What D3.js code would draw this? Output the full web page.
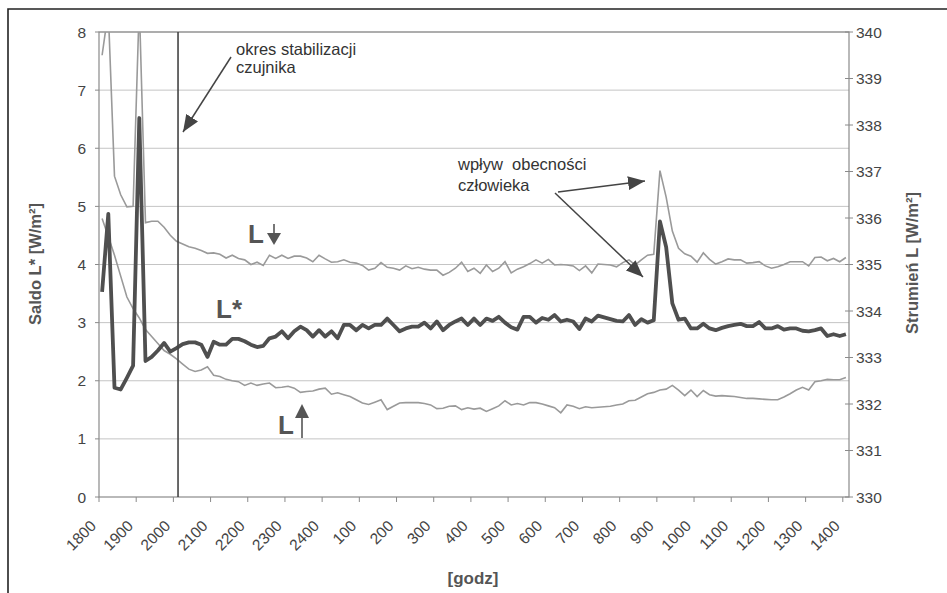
<!DOCTYPE html>
<html>
<head>
<meta charset="utf-8">
<script src="https://cdn.jsdelivr.net/npm/d3@7"></script>
<style>
body { margin: 0; background: #fff; }
svg text { font-family: Arial, "Liberation Sans", sans-serif; }
</style>
</head>
<body>
<svg width="947" height="593"></svg>
<script>
// godziny na osi X (co 6 pomiarow = 1h, pomiar co 10 min)
var hours = ["1800","1900","2000","2100","2200","2300","2400","100","200","300","400",
             "500","600","700","800","900","1000","1100","1200","1300","1400"];

// saldo L* [W/m2] - lewa os
var lStar = [3.53,4.87,1.88,1.85,2.05,2.26,6.52,2.34,2.41,2.52,
  2.65,2.5,2.56,2.63,2.66,2.66,2.62,2.41,2.67,2.62,
  2.62,2.72,2.72,2.68,2.62,2.58,2.6,2.73,2.76,2.85,
  2.73,2.85,2.93,2.87,2.76,2.87,2.76,2.85,2.73,2.96,
  2.96,2.87,2.96,2.9,2.96,2.96,3.07,2.96,2.85,2.9,
  2.93,2.93,3.0,2.9,3.02,2.87,2.96,3.02,3.07,2.96,
  3.07,2.96,3.07,3.03,3.1,3.0,2.92,2.88,3.1,3.1,
  3.0,3.08,3.05,3.13,3.02,3.05,3.02,2.89,3.07,3.02,
  3.12,3.09,3.06,3.03,3.02,3.13,2.96,3.06,3.0,3.04,
  4.74,4.3,3.33,3.05,3.07,2.9,2.9,2.98,2.9,2.87,
  2.91,2.94,2.96,2.98,2.94,2.94,3.01,2.9,2.9,2.94,
  2.88,2.9,2.9,2.86,2.85,2.87,2.9,2.77,2.8,2.77,
  2.8];

// strumien L w dol [W/m2] - prawa os
var lDown = [339.5,340.45,336.9,336.5,336.24,336.25,340.6,335.9,335.93,335.93,
  335.8,335.63,335.5,335.44,335.38,335.35,335.3,335.24,335.25,335.22,
  335.14,335.2,335.13,335.1,335.0,335.05,334.98,335.2,335.13,335.2,
  335.13,335.18,335.18,335.14,335.06,335.2,335.12,335.05,335.06,335.1,
  335.05,335.03,334.98,334.88,334.92,335.04,334.94,334.92,334.88,334.97,
  334.91,334.94,334.9,334.88,334.88,334.77,334.83,334.92,335.05,334.85,
  334.92,334.81,334.99,334.85,334.92,335.06,334.82,334.9,334.95,335.02,
  335.1,335.03,335.11,334.99,335.0,334.99,334.97,334.87,334.97,334.82,
  335.01,335.0,334.99,334.95,335.04,335.1,334.99,335.1,335.2,335.22,
  337.02,336.45,335.72,335.35,335.23,335.18,335.05,335.25,335.11,335.01,
  335.06,335.12,335.1,335.1,335.03,335.04,335.06,334.97,334.92,334.95,
  335.0,335.06,335.06,335.06,334.97,335.15,335.16,335.08,335.13,335.06,
  335.15];

// strumien L w gore [W/m2] - prawa os
var lUp = [335.99,335.6,335.2,334.75,334.3,334.05,333.85,333.6,333.45,333.3,
  333.15,333.07,332.97,332.86,332.75,332.7,332.73,332.8,332.62,332.59,
  332.53,332.5,332.48,332.4,332.45,332.4,332.43,332.45,332.35,332.36,
  332.38,332.34,332.25,332.27,332.28,332.32,332.34,332.21,332.24,332.2,
  332.16,332.09,332.02,331.99,332.04,332.09,331.88,331.95,332.02,332.03,
  332.03,332.03,332.01,331.98,331.9,331.91,331.95,331.96,331.88,331.92,
  331.89,331.91,331.84,331.9,331.96,332.07,331.98,332.01,331.98,332.03,
  332.03,332.0,331.96,331.92,331.81,331.98,331.95,331.9,331.94,331.92,
  331.93,331.94,331.95,331.98,332.0,332.07,332.08,332.15,332.22,332.25,
  332.3,332.32,332.4,332.3,332.18,332.3,332.16,332.29,332.2,332.17,
  332.18,332.17,332.16,332.14,332.12,332.12,332.11,332.1,332.09,332.09,
  332.15,332.22,332.3,332.36,332.3,332.48,332.5,332.53,332.52,332.52,
  332.57];

var leftTicks = [0,1,2,3,4,5,6,7,8];
var rightTicks = [330,331,332,333,334,335,336,337,338,339,340];

var svg = d3.select("svg");
var pL = 99, pR = 849, pT = 32, pB = 497;
var textCol = "#444", titleCol = "#555";

var x = d3.scaleLinear().domain([0, lStar.length]).range([pL, pR]);
var yL = d3.scaleLinear().domain([0, 8]).range([pB, pT]);
var yR = d3.scaleLinear().domain([330, 340]).range([pB, pT]);

// ramka zewnetrzna
svg.append("path").attr("d", "M8,593 L8,9 L947,9")
  .attr("fill", "none").attr("stroke", "#222").attr("stroke-width", 1.6);

var defs = svg.append("defs");
defs.append("clipPath").attr("id", "clip")
  .append("rect").attr("x", pL).attr("y", pT).attr("width", pR - pL).attr("height", pB - pT);
defs.append("marker").attr("id", "arr").attr("markerUnits", "userSpaceOnUse")
  .attr("markerWidth", 18).attr("markerHeight", 14).attr("refX", 17).attr("refY", 7)
  .attr("orient", "auto")
  .append("path").attr("d", "M0,0 L17,7 L0,14 z").attr("fill", "#444");

// siatka
svg.append("g").selectAll("line").data(leftTicks.slice(1)).enter().append("line")
  .attr("x1", pL).attr("x2", pR)
  .attr("y1", function(d) { return yL(d); }).attr("y2", function(d) { return yL(d); })
  .attr("stroke", "#c4c4c4").attr("stroke-width", 1);

svg.append("rect").attr("x", pL).attr("y", pT).attr("width", pR - pL).attr("height", pB - pT)
  .attr("fill", "none").attr("stroke", "#8a8a8a").attr("stroke-width", 1.2);

// lewa os
var gl = svg.append("g");
gl.selectAll("text").data(leftTicks).enter().append("text")
  .attr("x", 86).attr("y", function(d) { return yL(d); }).attr("dy", "0.36em")
  .attr("text-anchor", "end").attr("font-size", 15.5).attr("fill", textCol)
  .text(function(d) { return d; });
gl.selectAll("line").data(leftTicks).enter().append("line")
  .attr("x1", pL - 4).attr("x2", pL)
  .attr("y1", function(d) { return yL(d); }).attr("y2", function(d) { return yL(d); })
  .attr("stroke", "#8a8a8a");

// prawa os
var gr = svg.append("g");
gr.selectAll("text").data(rightTicks).enter().append("text")
  .attr("x", 856).attr("y", function(d) { return yR(d); }).attr("dy", "0.36em")
  .attr("font-size", 15.5).attr("fill", textCol)
  .text(function(d) { return d; });
gr.selectAll("line").data(rightTicks).enter().append("line")
  .attr("x1", pR - 4).attr("x2", pR + 4)
  .attr("y1", function(d) { return yR(d); }).attr("y2", function(d) { return yR(d); })
  .attr("stroke", "#8a8a8a");

// os X
var gx = svg.append("g");
gx.selectAll("line").data(hours).enter().append("line")
  .attr("x1", function(d, i) { return x(i * 6); }).attr("x2", function(d, i) { return x(i * 6); })
  .attr("y1", pB).attr("y2", pB + 5).attr("stroke", "#8a8a8a");
gx.selectAll("text").data(hours).enter().append("text")
  .attr("transform", function(d, i) { return "translate(" + (x(i * 6) - 2) + "," + 527 + ") rotate(-45)"; })
  .attr("text-anchor", "end").attr("font-size", 15.5).attr("fill", textCol)
  .text(function(d) { return d; });

// tytuly osi
svg.append("text").attr("transform", "translate(41,264) rotate(-90)")
  .attr("text-anchor", "middle").attr("font-size", 16.5).attr("font-weight", "bold")
  .attr("fill", titleCol).text("Saldo L* [W/m²]");
svg.append("text").attr("transform", "translate(918,263) rotate(-90)")
  .attr("text-anchor", "middle").attr("font-size", 16.5).attr("font-weight", "bold")
  .attr("fill", titleCol).text("Strumień L [W/m²]");
svg.append("text").attr("x", 473).attr("y", 584)
  .attr("text-anchor", "middle").attr("font-size", 17).attr("font-weight", "bold")
  .attr("fill", titleCol).text("[godz]");

// linie danych
var plot = svg.append("g").attr("clip-path", "url(#clip)");
var lineR = d3.line().x(function(d, i) { return x(i + 0.5); }).y(function(d) { return yR(d); });
var lineL = d3.line().x(function(d, i) { return x(i + 0.5); }).y(function(d) { return yL(d); });

plot.append("path").datum(lDown).attr("d", lineR)
  .attr("fill", "none").attr("stroke", "#9a9a9a").attr("stroke-width", 1.6);
plot.append("path").datum(lUp).attr("d", lineR)
  .attr("fill", "none").attr("stroke", "#9a9a9a").attr("stroke-width", 1.6);
plot.append("path").datum(lStar).attr("d", lineL)
  .attr("fill", "none").attr("stroke", "#4f4f4f").attr("stroke-width", 3.8)
  .attr("stroke-linejoin", "round");

// linia okresu stabilizacji
svg.append("line").attr("x1", x(12.75)).attr("x2", x(12.75)).attr("y1", pT).attr("y2", pB)
  .attr("stroke", "#444").attr("stroke-width", 1.6);

// adnotacje
var ann = svg.append("g").attr("font-size", 16.5).attr("fill", "#333");
ann.append("text").attr("x", 236).attr("y", 55).text("okres stabilizacji");
ann.append("text").attr("x", 236).attr("y", 73).text("czujnika");
ann.append("text").attr("x", 458).attr("y", 170).attr("xml:space", "preserve").text("wpływ  obecności");
ann.append("text").attr("x", 458).attr("y", 191).text("człowieka");

var arrows = [[231, 57, 183, 132], [558, 192, 645, 181], [555, 193, 643, 277]];
svg.append("g").selectAll("line").data(arrows).enter().append("line")
  .attr("x1", function(d) { return d[0]; }).attr("y1", function(d) { return d[1]; })
  .attr("x2", function(d) { return d[2]; }).attr("y2", function(d) { return d[3]; })
  .attr("stroke", "#444").attr("stroke-width", 1.5).attr("marker-end", "url(#arr)");

// etykiety serii
var lab = svg.append("g").attr("font-weight", "bold").attr("fill", "#555").attr("font-size", 26);
lab.append("text").attr("x", 248).attr("y", 243).text("L");
lab.append("text").attr("x", 216).attr("y", 318).text("L*");
lab.append("text").attr("x", 278).attr("y", 434).text("L");

// strzalki przy L
svg.append("line").attr("x1", 274).attr("x2", 274).attr("y1", 224).attr("y2", 236)
  .attr("stroke", "#555").attr("stroke-width", 1.6);
svg.append("path").attr("d", "M267,233 L281,233 L274,245 z").attr("fill", "#555");
svg.append("line").attr("x1", 302).attr("x2", 302).attr("y1", 416).attr("y2", 438)
  .attr("stroke", "#555").attr("stroke-width", 1.6);
svg.append("path").attr("d", "M295,418 L309,418 L302,404 z").attr("fill", "#555");
</script>
</body>
</html>
